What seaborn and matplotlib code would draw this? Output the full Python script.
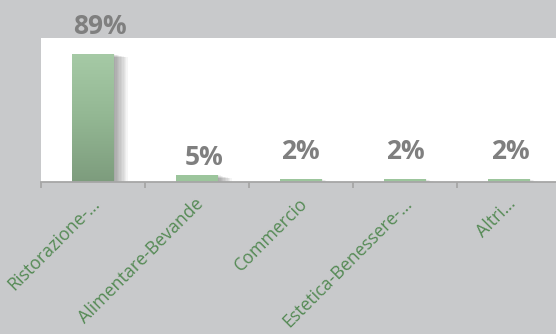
import matplotlib
matplotlib.use('Agg')
import matplotlib.pyplot as plt
import seaborn as sns
import numpy as np
import pandas as pd
from matplotlib import patheffects as pe
from matplotlib.colors import LinearSegmentedColormap
from matplotlib.transforms import ScaledTranslation

categories = ["Ristorazione-…", "Alimentare-Bevande", "Commercio", "Estetica-Benessere-…", "Altri…"]
values = [89, 5, 2, 2, 2]
value_labels = ["89%", "5%", "2%", "2%", "2%"]

# label placement tweaks (pixels): horizontal shift, gap above bar
label_dx = [7, 7, -1, 0, 1]
label_gap = [20, 10, 20, 20, 20]

sns.set_theme(style='white')
plt.rcParams['font.family'] = ['Open Sans', 'DejaVu Sans']

W, H = 556, 334
fig = plt.figure(figsize=(W / 100, H / 100), dpi=100)
fig.patch.set_facecolor('#c8c9cb')
ax = fig.add_axes([41 / W, (H - 182) / H, 520 / W, 144 / H])
ax.set_facecolor('white')

df = pd.DataFrame({'cat': categories, 'val': values})
sns.barplot(data=df, x='cat', y='val', width=0.4, color='#92b892',
            saturation=1, ax=ax)

cmap = LinearSegmentedColormap.from_list('g', ['#7d9c7d', '#93b793', '#a6caa6'])
grad = np.linspace(0, 1, 256).reshape(-1, 1)
shadow = [pe.SimplePatchShadow(offset=(d, -d * 0.25), shadow_rgbFace='k', alpha=0.045)
          for d in range(1, 11)]
for p in ax.patches:
    p.set_edgecolor('none')
    p.set_path_effects(shadow + [pe.Normal()])
    x0, w, h = p.get_x(), p.get_width(), p.get_height()
    if h > 10:
        im = ax.imshow(grad, extent=[x0, x0 + w, 0, h], origin='lower', cmap=cmap,
                       aspect='auto', zorder=p.get_zorder() + 0.1, interpolation='bilinear')
        im.set_clip_path(p)
    else:
        p.set_facecolor('#9cc59c')

ax.set_xlim(-0.5, 4.5)
ax.set_ylim(0, 100)
ax.set_xlabel('')
ax.set_ylabel('')
ax.set_yticks([])

for i, (v, lbl) in enumerate(zip(values, value_labels)):
    ax.annotate(lbl, (i, v), xytext=(label_dx[i] * 0.72, label_gap[i] * 0.72),
                textcoords='offset points',
                ha='center', va='baseline', fontsize=19, fontweight='bold',
                color='#7f7f7f', annotation_clip=False)

for s in ['top', 'left', 'right']:
    ax.spines[s].set_visible(False)
ax.spines['bottom'].set_color('#a6a6a6')
ax.spines['bottom'].set_linewidth(1.3)

ax.set_xticks(range(len(categories)))
ax.set_xticklabels(categories, rotation=45, ha='right', va='center',
                   rotation_mode='anchor', color='#558a55', fontsize=12.8)
ax.set_xticks(np.arange(-0.5, len(categories), 1.0), minor=True)
ax.tick_params(axis='x', which='major', length=0, pad=13.5)
ax.tick_params(axis='x', which='minor', length=4.5, width=1.3, color='#a6a6a6',
               direction='out', bottom=True)
for t in ax.get_xticklabels():
    t.set_transform(t.get_transform() + ScaledTranslation(4 / 100, 0, fig.dpi_scale_trans))

fig.savefig('out.png', dpi=100, facecolor=fig.get_facecolor())
